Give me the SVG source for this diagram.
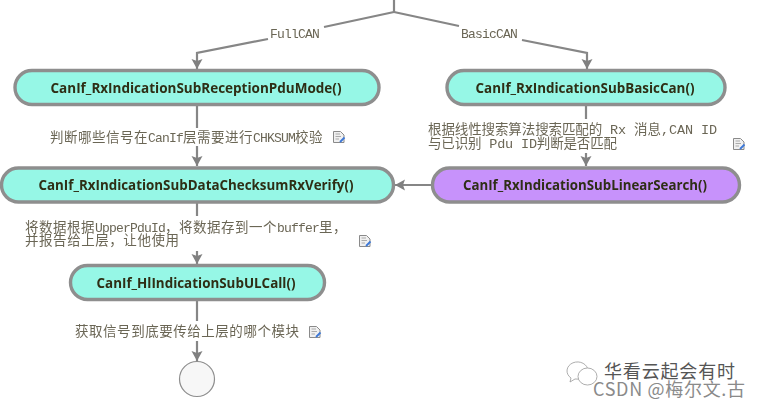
<svg xmlns="http://www.w3.org/2000/svg" width="761" height="408" viewBox="0 0 761 408">
<style>
.n{stroke:#8e8e8e;stroke-width:3.400}
.t{fill:#96f7e6}
.p{fill:#c792fb}
.nt{font-family:"Open Sans","Liberation Sans",sans-serif;font-weight:700;font-size:13.5px;fill:#2e2e14;text-anchor:middle}
.l{font-family:"Liberation Mono","Noto Sans CJK SC",monospace;font-size:13.5px;fill:#6b6655}
.m{font-size:13px;letter-spacing:-0.8px}
.c{fill:none;stroke:#868686;stroke-width:2.200}
.w{font-family:"Noto Sans CJK SC","Liberation Sans",sans-serif;font-size:18px}
</style>
<defs>
<marker id="a" markerUnits="userSpaceOnUse" markerWidth="12" markerHeight="12" refX="10" refY="5.5" orient="auto"><path d="M0 0L10 5.500L0 11L2 5.500Z" fill="#808080"/></marker>
<g id="doc"><path d="M0.500 0.500H7.500L11 4V11.500H0.500Z" fill="#f0f0f0" stroke="#8a8a8a"/><path d="M2.500 3H7M2.500 5.500H8M2.500 8H6" stroke="#aaa" fill="none"/><path d="M7 11L11.500 6.500" stroke="#3c78d8" stroke-width="1.800"/></g>
<filter id="b" x="-5%" y="-5%" width="110%" height="110%"><feGaussianBlur stdDeviation="0.35"/></filter>
</defs>
<g filter="url(#b)">
<g id="connectors">
<path class="c" d="M394 0V12"/>
<path class="c" d="M394 12L324 27M268 39L197 53V69" marker-end="url(#a)"/>
<path class="c" d="M394 12L459 26M522 40L587 53V69" marker-end="url(#a)"/>
<path class="c" d="M197 106V128M197 146V166" marker-end="url(#a)"/>
<path class="c" d="M586 106V119M586 153V166" marker-end="url(#a)"/>
<path class="c" d="M431 185H395" marker-end="url(#a)"/>
<path class="c" d="M197 203V216M197 251V264" marker-end="url(#a)"/>
<path class="c" d="M197 301V321M197 341V361" marker-end="url(#a)"/>
</g>
<g id="n1"><rect class="n t" x="15" y="70.500" width="364" height="34" rx="17"/><text class="nt" x="196" y="93" textLength="291" lengthAdjust="spacingAndGlyphs">CanIf_RxIndicationSubReceptionPduMode()</text></g>
<g id="n2"><rect class="n t" x="447" y="70.500" width="278" height="34" rx="17"/><text class="nt" x="585" y="93" textLength="219" lengthAdjust="spacingAndGlyphs">CanIf_RxIndicationSubBasicCan()</text></g>
<g id="n3"><rect class="n t" x="1.500" y="168" width="392" height="34" rx="17"/><text class="nt" x="196" y="190" textLength="315" lengthAdjust="spacingAndGlyphs">CanIf_RxIndicationSubDataChecksumRxVerify()</text></g>
<g id="n4"><rect class="n p" x="432.500" y="168" width="307" height="34" rx="17"/><text class="nt" x="585" y="190" textLength="244" lengthAdjust="spacingAndGlyphs">CanIf_RxIndicationSubLinearSearch()</text></g>
<g id="n5"><rect class="n t" x="70.500" y="265.500" width="254" height="34" rx="17"/><text class="nt" x="196" y="288" textLength="199" lengthAdjust="spacingAndGlyphs">CanIf_HlIndicationSubULCall()</text></g>
<g id="end"><circle cx="197" cy="379" r="17.500" fill="#f7f7f7" stroke="#8e8e8e" stroke-width="1.200"/></g>
<g id="labels">
<text class="l" x="270" y="38"><tspan class="m">FullCAN</tspan></text>
<text class="l" x="461" y="38"><tspan class="m">BasicCAN</tspan></text>
<text class="l" x="50" y="142" letter-spacing="0.500">判断哪些信号在<tspan class="m">CanIf</tspan>层需要进行<tspan class="m">CHKSUM</tspan>校验</text>
<text class="l" x="428" y="134" textLength="289">根据线性搜索算法搜索匹配的 Rx 消息,CAN ID</text>
<text class="l" x="428" y="148" textLength="189">与已识别 Pdu ID判断是否匹配</text>
<text class="l" x="25" y="232" letter-spacing="0.500">将数据根据<tspan class="m">UpperPduId</tspan>，将数据存到一个<tspan class="m">buffer</tspan>里，</text>
<text class="l" x="25" y="245" textLength="154">并报告给上层，让他使用</text>
<text class="l" x="75" y="336" textLength="224">获取信号到底要传给上层的哪个模块</text>
<use href="#doc" x="333" y="131"/>
<use href="#doc" x="733" y="138"/>
<use href="#doc" x="359" y="235"/>
<use href="#doc" x="309" y="326"/>
</g>
</g>
<g id="watermark">
<g fill="#fff" stroke="#999" stroke-width="0.800"><path d="M588 371a10.500 9 0 1 0-17 7l-1 4 5-3a10.500 9 0 0 0 13-8Z"/><ellipse cx="587.500" cy="376.500" rx="9.500" ry="8.500"/></g>
<text class="w" x="604" y="378" fill="#555" textLength="131">华看云起会有时</text>
<text class="w" x="593" y="396" fill="#8a8a8a" textLength="152">CSDN @梅尔文.古</text>
</g>
</svg>
